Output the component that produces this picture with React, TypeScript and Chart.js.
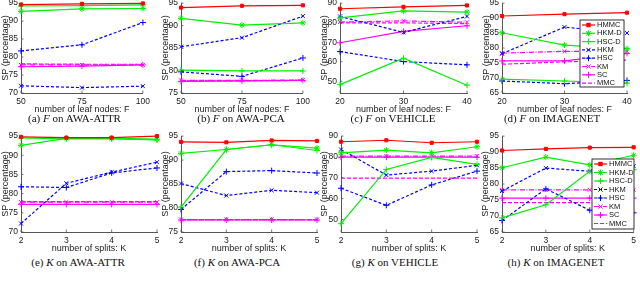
import React, { useEffect, useRef } from 'react';
import { Chart, registerables } from 'chart.js';

Chart.register(...registerables);

// ---------------- data ----------------
const seriesNames = ['HMMC', 'HKM-D', 'HSC-D', 'HKM', 'HSC', 'KM', 'SC', 'MMC'];

const leafNodesAWA = [50, 75, 100];
const leafNodesOther = [20, 30, 40];
const numSplits = [2, 3, 4, 5];

const ticksAWAattr = [70, 75, 80, 85, 90, 95];
const ticksAWApca = [75, 80, 85, 90, 95];
const ticksVehicle = [50, 60, 70, 80, 90];
const ticksImagenet = [65, 70, 75, 80, 85, 90, 95];

// (a) F on AWA-ATTR
const aHMMC = [94.6, 94.8, 94.9];
const aHKMD = [92.7, 93.4, 93.5];
const aHSCD = [94.2, 94.3, 94.5];
const aHKM = [72.0, 71.5, 71.9];
const aHSC = [81.7, 83.4, 89.6];
const aKM = [77.8, 77.8, 77.8];
const aSC = [77.3, 77.5, 77.8];
const aMMC = [78.1, 78.0, 78.0];

// (b) F on AWA-PCA
const bHMMC = [94.0, 94.4, 94.5];
const bHKMD = [91.6, 90.1, 90.6];
const bHSCD = [80.1, 79.9, 79.9];
const bHKM = [85.3, 87.3, 92.1];
const bHSC = [79.7, 78.7, 82.8];
const bKM = [77.8, 77.8, 77.9];
const bSC = [77.6, 77.7, 77.8];
const bMMC = [77.7, 77.7, 77.8];

// (c) F on VEHICLE
const cHMMC = [87.1, 88.1, 88.8];
const cHKMD = [82.4, 86.0, 85.4];
const cHSCD = [48.3, 61.8, 48.0];
const cHKM = [83.2, 75.0, 83.2];
const cHSC = [65.2, 60.1, 58.4];
const cKM = [80.3, 80.9, 80.2];
const cSC = [69.7, 75.5, 78.4];
const cMMC = [79.9, 79.9, 79.5];

// (d) F on IMAGENET
const dHMMC = [90.7, 91.3, 91.8];
const dHKMD = [85.1, 81.0, 79.8];
const dHSCD = [69.6, 69.0, 68.3];
const dHKM = [78.1, 87.0, 85.0];
const dHSC = [69.0, 68.1, 69.2];
const dKM = [78.3, 78.9, 78.9];
const dSC = [75.7, 75.7, 78.2];
const dMMC = [74.6, 75.4, 76.0];

// (e) K on AWA-ATTR
const eHMMC = [94.8, 94.6, 94.6, 95.0];
const eHKMD = [92.6, 94.4, 94.4, 94.2];
const eHSCD = [94.5, 94.3, 94.3, 94.0];
const eHKM = [72.2, 82.7, 85.6, 88.2];
const eHSC = [81.8, 81.6, 85.4, 86.7];
const eKM = [77.8, 77.8, 77.8, 77.8];
const eSC = [77.2, 77.2, 77.2, 77.2];
const eMMC = [77.9, 77.9, 77.9, 77.9];

// (f) K on AWA-PCA
const fHMMC = [93.8, 93.7, 94.1, 94.0];
const fHKMD = [91.4, 92.2, 93.2, 92.5];
const fHSCD = [80.2, 92.2, 93.2, 92.0];
const fHKM = [85.1, 82.6, 83.7, 83.2];
const fHSC = [79.7, 87.6, 87.8, 87.3];
const fKM = [77.6, 77.6, 77.6, 77.6];
const fSC = [77.5, 77.5, 77.5, 77.5];
const fMMC = [77.6, 77.6, 77.6, 77.6];

// (g) K on VEHICLE
const gHMMC = [87.3, 88.0, 86.8, 87.3];
const gHKMD = [82.0, 83.3, 82.0, 84.9];
const gHSCD = [48.0, 74.0, 79.8, 76.4];
const gHKM = [83.6, 71.3, 73.2, 76.0];
const gHSC = [65.0, 56.8, 66.6, 73.2];
const gKM = [80.4, 80.4, 80.4, 80.4];
const gSC = [79.9, 79.9, 79.9, 79.9];
const gMMC = [69.8, 69.8, 69.8, 69.8];

// (h) K on IMAGENET
const hHMMC = [90.5, 91.0, 91.4, 91.5];
const hHKMD = [85.1, 88.4, 86.0, 89.0];
const hHSCD = [69.4, 73.5, 84.0, 84.5];
const hHKM = [77.8, 85.0, 84.0, 85.6];
const hHSC = [68.6, 78.5, 71.8, 71.0];
const hKM = [78.2, 78.2, 78.2, 78.2];
const hSC = [75.6, 75.6, 75.6, 75.6];
const hMMC = [74.2, 74.2, 74.2, 74.2];

// ---------------- styles ----------------
type Sty = { color: string; dash: number[]; point: string | false; r: number };
const styleOf: Record<string, Sty> = {
  HMMC: { color: '#ff0000', dash: [], point: 'rect', r: 2.2 },
  'HKM-D': { color: '#00ee00', dash: [], point: 'star', r: 3 },
  'HSC-D': { color: '#00ee00', dash: [], point: 'cross', r: 3 },
  HKM: { color: '#0000ff', dash: [3, 2], point: 'crossRot', r: 2.8 },
  HSC: { color: '#0000ff', dash: [3, 2], point: 'cross', r: 3 },
  KM: { color: '#ff00ff', dash: [5, 1.5, 1, 1.5], point: 'crossRot', r: 2.8 },
  SC: { color: '#ff00ff', dash: [], point: 'cross', r: 3 },
  MMC: { color: '#ff00ff', dash: [4, 2], point: false, r: 0 },
};

const AXIS_FONT = 'Liberation Sans, Arial, sans-serif';

type PanelCfg = {
  key: string;
  x: number[];
  xMin: number;
  xMax: number;
  yMin: number;
  yMax: number;
  yTicks: number[];
  xTitle: string;
  series: number[][];
  L0: number; T0: number; cl: number; cr: number; ct: number; cb: number;
  legend?: { x: number; y: number; w: number; h: number; step: number } | false;
};

const TOP = { T0: -5, ct: 3, cb: 93 };
const BOT = { T0: 128, ct: 136, cb: 232 };

const panels: PanelCfg[] = [
  { key: 'a', x: leafNodesAWA, xMin: 50, xMax: 100, yMin: 70, yMax: 95, yTicks: ticksAWAattr, xTitle: 'number of leaf nodes: F',
    series: [aHMMC, aHKMD, aHSCD, aHKM, aHSC, aKM, aSC, aMMC], L0: 0, cl: 21, cr: 144, ...TOP },
  { key: 'b', x: leafNodesAWA, xMin: 50, xMax: 100, yMin: 75, yMax: 95, yTicks: ticksAWApca, xTitle: 'number of leaf nodes: F',
    series: [bHMMC, bHKMD, bHSCD, bHKM, bHSC, bKM, bSC, bMMC], L0: 160, cl: 181, cr: 304, ...TOP },
  { key: 'c', x: leafNodesOther, xMin: 20, xMax: 40, yMin: 44, yMax: 90, yTicks: ticksVehicle, xTitle: 'number of leaf nodes: F',
    series: [cHMMC, cHKMD, cHSCD, cHKM, cHSC, cKM, cSC, cMMC], L0: 319, cl: 340, cr: 467, ...TOP },
  { key: 'd', x: leafNodesOther, xMin: 20, xMax: 40, yMin: 65, yMax: 95, yTicks: ticksImagenet, xTitle: 'number of leaf nodes: F',
    series: [dHMMC, dHKMD, dHSCD, dHKM, dHSC, dKM, dSC, dMMC], L0: 481, cl: 502, cr: 627, ...TOP,
    legend: { x: 99, y: 25, w: 44, h: 67, step: 8.3 } },
  { key: 'e', x: numSplits, xMin: 2, xMax: 5, yMin: 70, yMax: 95, yTicks: ticksAWAattr, xTitle: 'number of splits: K',
    series: [eHMMC, eHKMD, eHSCD, eHKM, eHSC, eKM, eSC, eMMC], L0: 0, cl: 21, cr: 157, ...BOT },
  { key: 'f', x: numSplits, xMin: 2, xMax: 5, yMin: 75, yMax: 95, yTicks: ticksAWApca, xTitle: 'number of splits: K',
    series: [fHMMC, fHKMD, fHSCD, fHKM, fHSC, fKM, fSC, fMMC], L0: 160, cl: 181, cr: 317, ...BOT },
  { key: 'g', x: numSplits, xMin: 2, xMax: 5, yMin: 44, yMax: 90, yTicks: ticksVehicle, xTitle: 'number of splits: K',
    series: [gHMMC, gHKMD, gHSCD, gHKM, gHSC, gKM, gSC, gMMC], L0: 319, cl: 341, cr: 477, ...BOT },
  { key: 'h', x: numSplits, xMin: 2, xMax: 5, yMin: 65, yMax: 95, yTicks: ticksImagenet, xTitle: 'number of splits: K',
    series: [hHMMC, hHKMD, hHSCD, hHKM, hHSC, hKM, hSC, hMMC], L0: 480, cl: 502, cr: 637, ...BOT,
    legend: { x: 112, y: 31, w: 42, h: 70, step: 8.5 } },
];

const captions = [
  { key: 'a', left: 74.5, top: 117.5, pre: '(a) ', v: 'F', post: ' on AWA-ATTR' },
  { key: 'b', left: 241, top: 117.5, pre: '(b) ', v: 'F', post: ' on AWA-PCA' },
  { key: 'c', left: 393, top: 117.5, pre: '(c) ', v: 'F', post: ' on VEHICLE' },
  { key: 'd', left: 552, top: 117.5, pre: '(d) ', v: 'F', post: ' on IMAGENET' },
  { key: 'e', left: 78, top: 261.5, pre: '(e) ', v: 'K', post: ' on AWA-ATTR' },
  { key: 'f', left: 237, top: 261.5, pre: '(f) ', v: 'K', post: ' on AWA-PCA' },
  { key: 'g', left: 395, top: 261.5, pre: '(g) ', v: 'K', post: ' on VEHICLE' },
  { key: 'h', left: 556, top: 261.5, pre: '(h) ', v: 'K', post: ' on IMAGENET' },
];

// ---------------- helpers ----------------
function drawMarker(ctx: CanvasRenderingContext2D, kind: string | false, x: number, y: number, r: number, color: string) {
  if (!kind) return;
  ctx.save();
  ctx.setLineDash([]);
  ctx.strokeStyle = color;
  ctx.fillStyle = color;
  ctx.lineWidth = 1;
  ctx.beginPath();
  if (kind === 'rect') {
    ctx.fillRect(x - r, y - r, 2 * r, 2 * r);
  } else {
    if (kind === 'cross' || kind === 'star') {
      ctx.moveTo(x - r, y); ctx.lineTo(x + r, y);
      ctx.moveTo(x, y - r); ctx.lineTo(x, y + r);
    }
    if (kind === 'crossRot' || kind === 'star') {
      const d = r * 0.75;
      ctx.moveTo(x - d, y - d); ctx.lineTo(x + d, y + d);
      ctx.moveTo(x - d, y + d); ctx.lineTo(x + d, y - d);
    }
    ctx.stroke();
  }
  ctx.restore();
}

const inwardTicks = {
  id: 'inwardTicks',
  afterDraw(chart: any) {
    const { ctx, chartArea, scales } = chart;
    const xs = scales.x, ys = scales.y;
    ctx.save();
    ctx.strokeStyle = '#555';
    ctx.lineWidth = 0.8;
    ctx.beginPath();
    xs.ticks.forEach((t: any) => {
      const px = xs.getPixelForValue(t.value);
      ctx.moveTo(px, chartArea.bottom);
      ctx.lineTo(px, chartArea.bottom - 2.5);
    });
    ys.ticks.forEach((t: any) => {
      const py = ys.getPixelForValue(t.value);
      ctx.moveTo(chartArea.left, py);
      ctx.lineTo(chartArea.left + 2.5, py);
    });
    ctx.stroke();
    ctx.restore();
  },
};

const panelLegend = {
  id: 'panelLegend',
  afterDraw(chart: any, _args: any, opts: any) {
    if (!opts || !opts.w) return;
    const ctx: CanvasRenderingContext2D = chart.ctx;
    ctx.save();
    ctx.fillStyle = '#ffffff';
    ctx.fillRect(opts.x, opts.y, opts.w, opts.h);
    ctx.strokeStyle = '#000';
    ctx.lineWidth = 0.8;
    ctx.strokeRect(opts.x, opts.y, opts.w, opts.h);
    ctx.font = `7.5px ${AXIS_FONT}`;
    ctx.textBaseline = 'middle';
    seriesNames.forEach((name, i) => {
      const st = styleOf[name];
      const yy = opts.y + 5 + i * opts.step;
      ctx.save();
      ctx.strokeStyle = st.color;
      ctx.lineWidth = 1.2;
      ctx.setLineDash(st.dash);
      ctx.beginPath();
      ctx.moveTo(opts.x + 2, yy);
      ctx.lineTo(opts.x + 15, yy);
      ctx.stroke();
      ctx.restore();
      drawMarker(ctx, st.point, opts.x + 8.5, yy, st.r, st.color);
      ctx.fillStyle = '#111';
      ctx.fillText(name, opts.x + 17, yy);
    });
    ctx.restore();
  },
};

function Panel({ cfg }: { cfg: PanelCfg }) {
  const ref = useRef<HTMLCanvasElement>(null);
  const padR = cfg.key === 'h' ? 3 : 10;
  const padT = cfg.ct - cfg.T0;
  const xAxisH = 22;
  const W = cfg.cr + padR - cfg.L0;
  const H = cfg.cb + xAxisH - cfg.T0;

  useEffect(() => {
    const tickFont = { family: AXIS_FONT, size: 8.5 };
    const titleFont = { family: AXIS_FONT, size: 9 };
    const chart = new Chart(ref.current as HTMLCanvasElement, {
      type: 'line',
      data: {
        datasets: seriesNames.map((name, i) => {
          const st = styleOf[name];
          return {
            label: name,
            data: cfg.x.map((xv, j) => ({ x: xv, y: cfg.series[i][j] })),
            borderColor: st.color,
            backgroundColor: st.color,
            borderWidth: 1.2,
            borderDash: st.dash,
            pointStyle: st.point === false ? 'circle' : st.point,
            pointRadius: st.r,
            pointBorderWidth: 1,
            pointBackgroundColor: st.color,
            pointBorderColor: st.color,
            tension: 0,
            clip: false,
          } as any;
        }),
      },
      options: {
        responsive: false,
        animation: false,
        devicePixelRatio: 1,
        events: [],
        layout: { padding: { left: 0, right: padR, top: padT, bottom: 0 }, autoPadding: false } as any,
        plugins: {
          legend: { display: false },
          tooltip: { enabled: false },
          panelLegend: cfg.legend ? cfg.legend : {},
        } as any,
        scales: {
          x: {
            type: 'linear',
            min: cfg.xMin,
            max: cfg.xMax,
            afterBuildTicks: (s: any) => { s.ticks = cfg.x.map((v) => ({ value: v })); },
            afterFit: (s: any) => { s.height = xAxisH; },
            grid: { display: false, drawTicks: false },
            border: { display: true, color: '#555', width: 1 },
            ticks: { font: tickFont, color: '#222', padding: 4, maxRotation: 0, autoSkip: false },
            title: { display: true, text: cfg.xTitle, font: titleFont, color: '#222', padding: 0 },
          },
          y: {
            type: 'linear',
            min: cfg.yMin,
            max: cfg.yMax,
            afterBuildTicks: (s: any) => { s.ticks = cfg.yTicks.map((v) => ({ value: v })); },
            afterFit: (s: any) => { s.width = cfg.cl - cfg.L0; },
            grid: { display: false, drawTicks: false },
            border: { display: true, color: '#555', width: 1 },
            ticks: { font: tickFont, color: '#222', padding: 3, autoSkip: false },
            title: { display: true, text: 'SP (percentage)', font: titleFont, color: '#222', padding: 0 },
          },
        },
      } as any,
      plugins: [inwardTicks, panelLegend],
    });
    return () => chart.destroy();
  }, []);

  return (
    <canvas
      ref={ref}
      width={W}
      height={H}
      style={{ position: 'absolute', left: cfg.L0, top: cfg.T0, width: W, height: H }}
    />
  );
}

export default function App() {
  return (
    <div style={{ position: 'fixed', left: 0, top: 0, width: 640, height: 283, overflow: 'hidden', background: '#fff' }}>
      {panels.map((p) => <Panel key={p.key} cfg={p} />)}
      {captions.map((c) => (
        <div
          key={c.key}
          style={{
            position: 'absolute', left: c.left - 80, top: c.top - 7, width: 160, height: 14,
            textAlign: 'center', lineHeight: '14px', fontFamily: 'Liberation Serif, Times New Roman, serif',
            fontSize: 11, color: '#111', whiteSpace: 'nowrap',
          }}
        >
          {c.pre}<i>{c.v}</i>{c.post}
        </div>
      ))}
    </div>
  );
}
